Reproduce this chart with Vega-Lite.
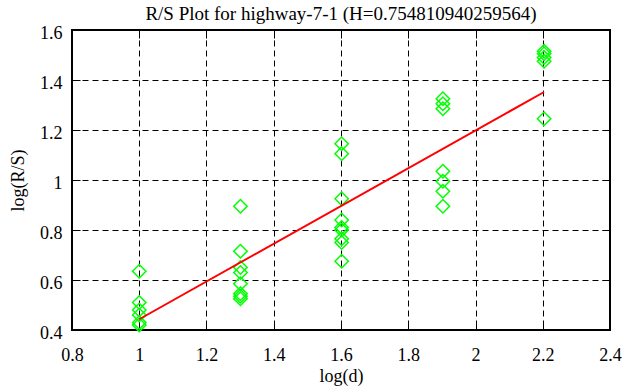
{
  "$schema": "https://vega.github.io/schema/vega-lite/v6.json",
  "width": 538,
  "height": 300,
  "autosize": {"type": "none"},
  "padding": {"left": 72, "top": 30, "right": 16, "bottom": 57},
  "background": "white",
  "title": {
    "text": "R/S Plot for highway-7-1 (H=0.754810940259564)",
    "font": "Liberation Serif",
    "fontSize": 19,
    "fontWeight": "normal",
    "color": "black",
    "anchor": "middle",
    "baseline": "alphabetic",
    "offset": 12,
    "dy": 27
  },
  "config": {
    "view": {"stroke": "black", "strokeWidth": 2},
    "axis": {
      "domain": false,
      "labelFont": "Liberation Serif",
      "labelFontSize": 18,
      "labelColor": "black",
      "titleFont": "Liberation Serif",
      "titleFontSize": 18,
      "titleFontWeight": "normal",
      "titleColor": "black",
      "tickColor": "black",
      "tickWidth": 1,
      "tickSize": -8,
      "gridColor": "black",
      "gridDash": [6, 4],
      "gridOpacity": 1,
      "gridWidth": 1
    }
  },
  "datasets": {
    "points": [
      {"logd": 1.0, "logrs": 0.635},
      {"logd": 1.0, "logrs": 0.51},
      {"logd": 1.0, "logrs": 0.48},
      {"logd": 1.0, "logrs": 0.46},
      {"logd": 1.0, "logrs": 0.43},
      {"logd": 1.0, "logrs": 0.42},
      {"logd": 1.301, "logrs": 0.895},
      {"logd": 1.301, "logrs": 0.715},
      {"logd": 1.301, "logrs": 0.65},
      {"logd": 1.301, "logrs": 0.63},
      {"logd": 1.301, "logrs": 0.585},
      {"logd": 1.301, "logrs": 0.545},
      {"logd": 1.301, "logrs": 0.535},
      {"logd": 1.301, "logrs": 0.525},
      {"logd": 1.602, "logrs": 1.145},
      {"logd": 1.602, "logrs": 1.105},
      {"logd": 1.602, "logrs": 0.925},
      {"logd": 1.602, "logrs": 0.84},
      {"logd": 1.602, "logrs": 0.81},
      {"logd": 1.602, "logrs": 0.8},
      {"logd": 1.602, "logrs": 0.765},
      {"logd": 1.602, "logrs": 0.75},
      {"logd": 1.602, "logrs": 0.675},
      {"logd": 1.903, "logrs": 1.325},
      {"logd": 1.903, "logrs": 1.305},
      {"logd": 1.903, "logrs": 1.285},
      {"logd": 1.903, "logrs": 1.035},
      {"logd": 1.903, "logrs": 0.995},
      {"logd": 1.903, "logrs": 0.955},
      {"logd": 1.903, "logrs": 0.895},
      {"logd": 2.204, "logrs": 1.515},
      {"logd": 2.204, "logrs": 1.505},
      {"logd": 2.204, "logrs": 1.49},
      {"logd": 2.204, "logrs": 1.475},
      {"logd": 2.204, "logrs": 1.245}
    ],
    "fit": [
      {"logd": 1.0, "logrs": 0.443},
      {"logd": 2.204, "logrs": 1.352}
    ]
  },
  "layer": [
    {
      "data": {"name": "points"},
      "mark": {"type": "point", "shape": "diamond", "filled": false, "stroke": "#00ff00", "strokeWidth": 1.5, "size": 180, "opacity": 1},
      "encoding": {
        "x": {
          "field": "logd", "type": "quantitative",
          "scale": {"domain": [0.8, 2.4], "nice": false, "zero": false},
          "axis": {"orient": "bottom", "title": "log(d)", "values": [0.8, 1, 1.2, 1.4, 1.6, 1.8, 2, 2.2, 2.4], "format": "~g", "grid": true, "labelPadding": 24, "titlePadding": 3, "labelFlush": false}
        },
        "y": {
          "field": "logrs", "type": "quantitative",
          "scale": {"domain": [0.4, 1.6], "nice": false, "zero": false},
          "axis": {"orient": "left", "title": "log(R/S)", "values": [0.4, 0.6, 0.8, 1, 1.2, 1.4, 1.6], "format": "~g", "grid": true, "labelPadding": 18, "titlePadding": 12, "labelFlush": false, "labelOffset": 3}
        }
      }
    },
    {
      "data": {"name": "fit"},
      "mark": {"type": "line", "color": "#ff0000", "strokeWidth": 2},
      "encoding": {
        "x": {
          "field": "logd", "type": "quantitative",
          "axis": {"orient": "top", "title": null, "labels": false, "grid": false, "values": [0.8, 1, 1.2, 1.4, 1.6, 1.8, 2, 2.2, 2.4]}
        },
        "y": {
          "field": "logrs", "type": "quantitative",
          "axis": {"orient": "right", "title": null, "labels": false, "grid": false, "values": [0.4, 0.6, 0.8, 1, 1.2, 1.4, 1.6]}
        }
      }
    }
  ],
  "resolve": {"axis": {"x": "independent", "y": "independent"}}
}
